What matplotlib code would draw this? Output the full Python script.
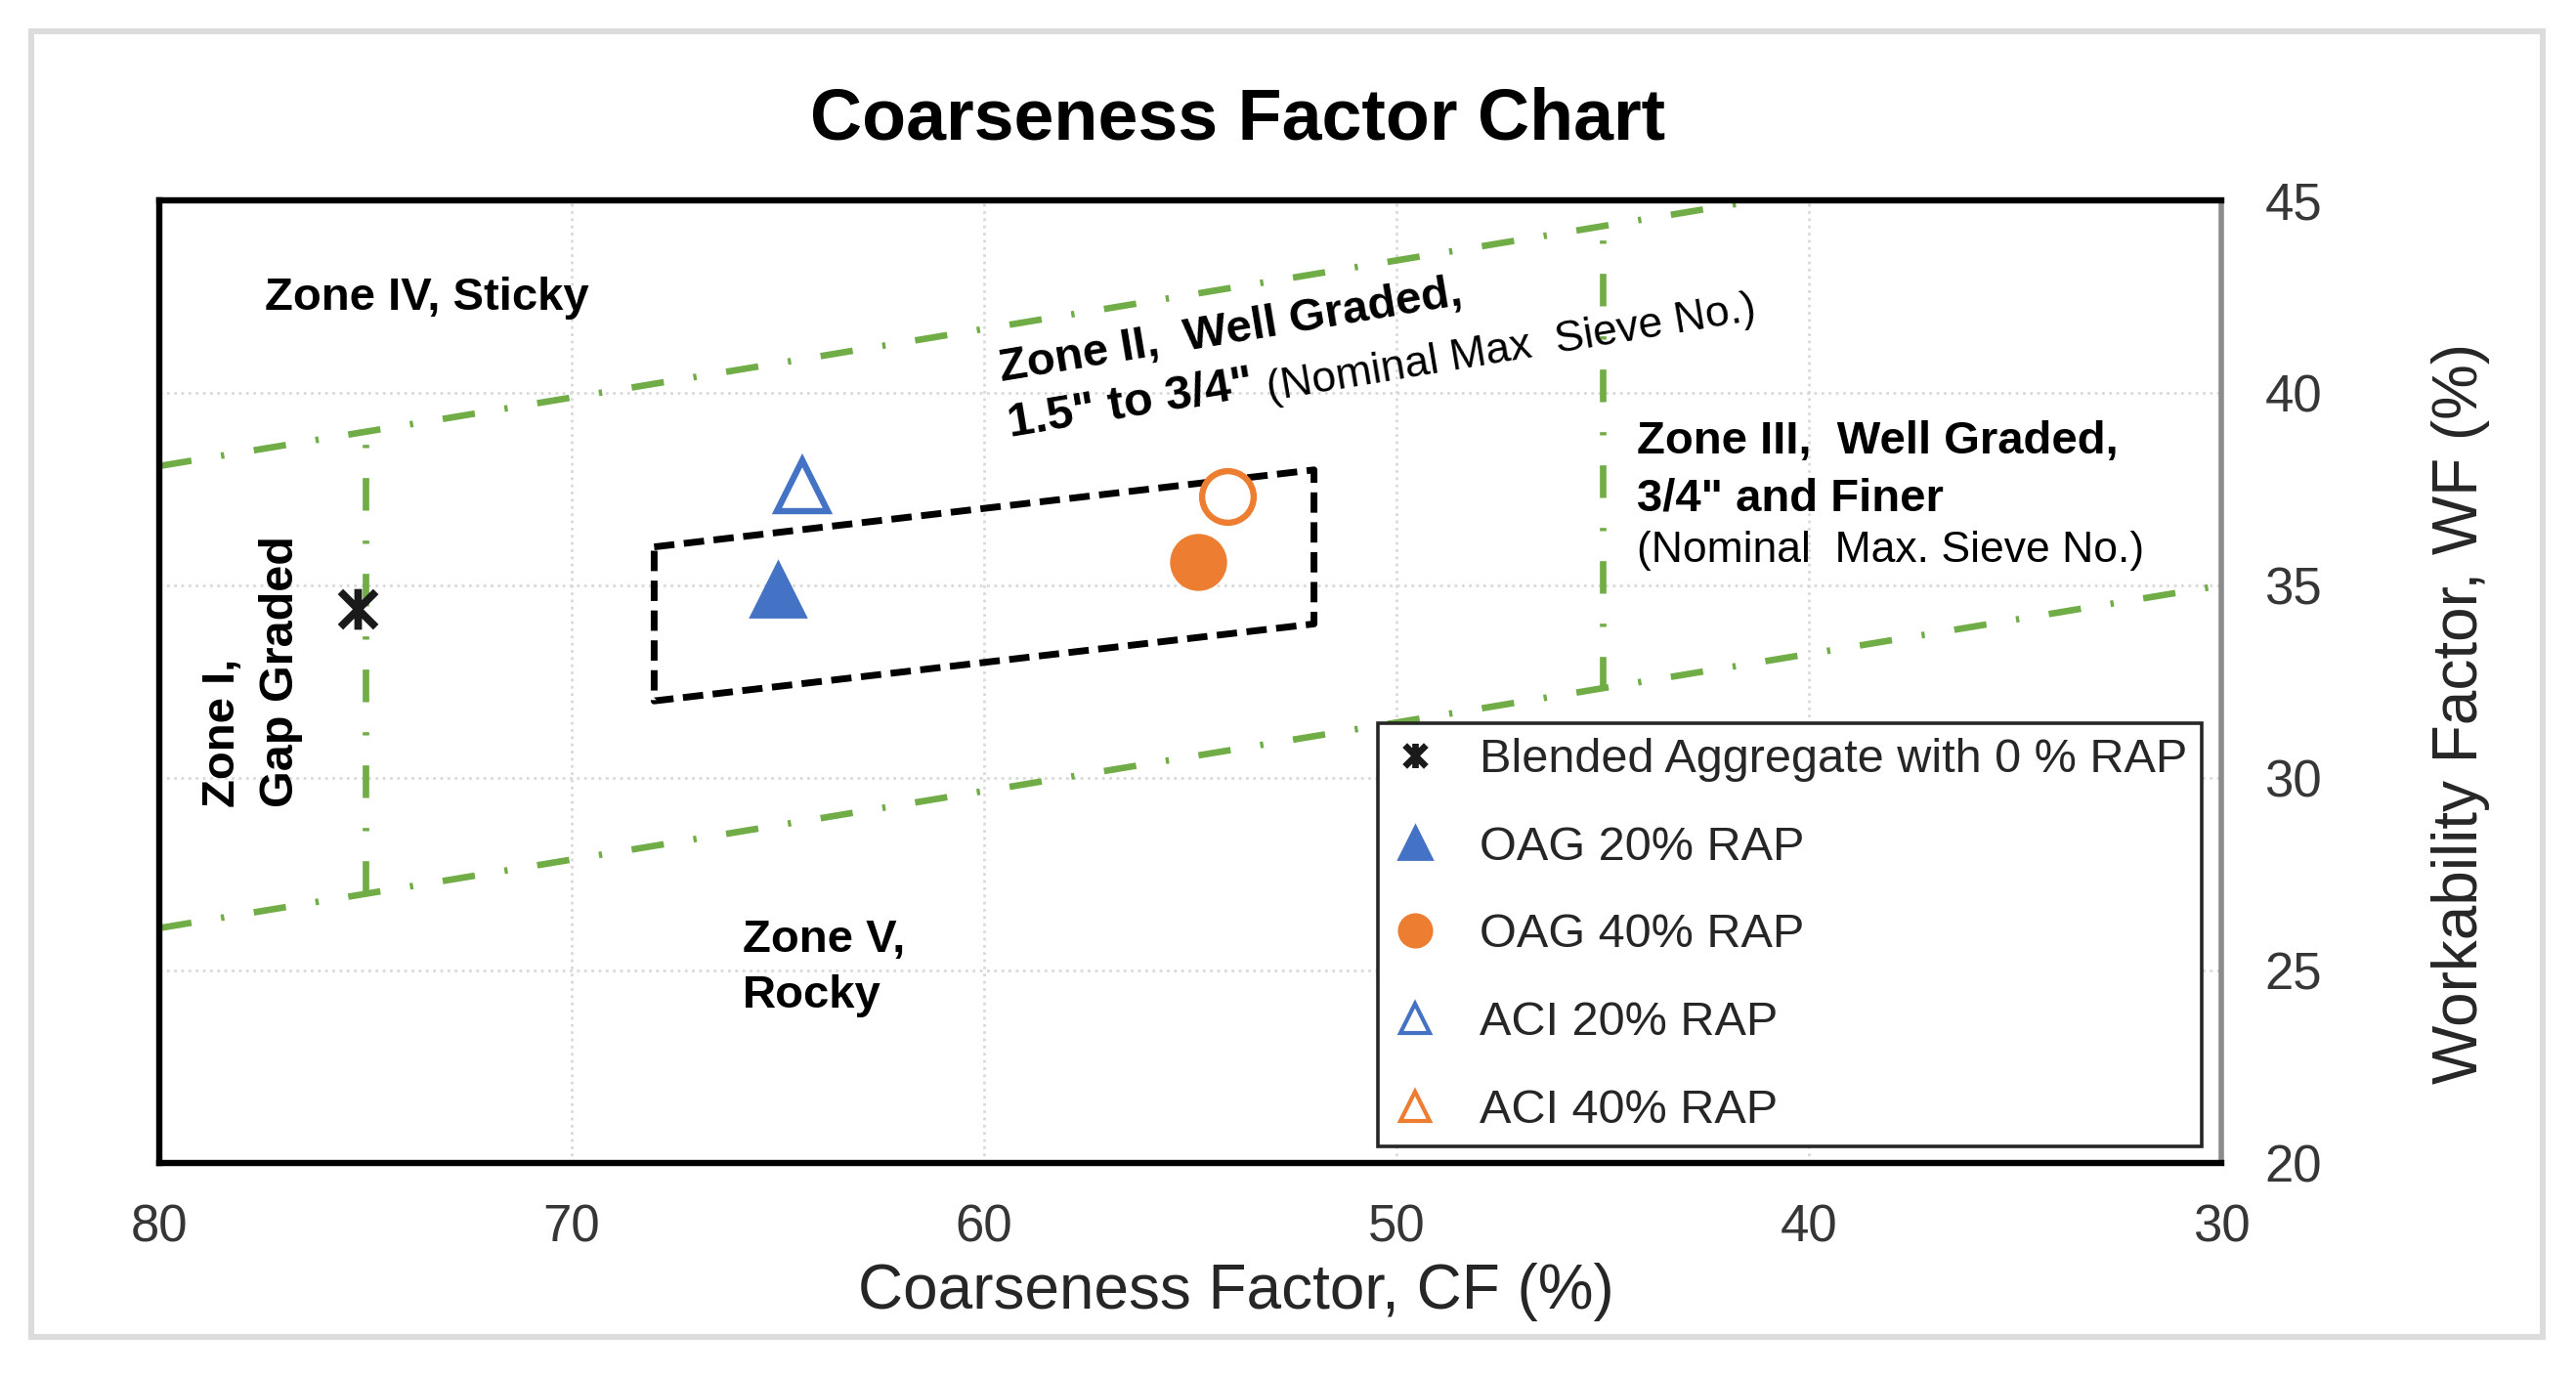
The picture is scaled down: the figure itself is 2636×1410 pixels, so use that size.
import numpy as np
import matplotlib
matplotlib.use("Agg")
import matplotlib.pyplot as plt
from matplotlib.lines import Line2D
from matplotlib.path import Path
from matplotlib.patches import Rectangle

plt.rcParams['font.family'] = ['Liberation Sans', 'DejaVu Sans']

# boundary lines (CF, WF)
upper_cf = [80, 30]
upper_wf = [38.1, 47.0]
lower_cf = [80, 30]
lower_wf = [26.1, 35.0]
zone1_cf = [75, 75]
zone1_wf = [27.0, 39.0]
zone3_cf = [45, 45]
zone3_wf = [32.3, 44.2]

# dashed box (recommended region)
box_cf = [68, 52, 52, 68, 68]
box_wf = [36, 38, 34, 32, 36]

# mixes
blend_cf, blend_wf = [75.2], [34.4]
oag20_cf, oag20_wf = [65.0], [34.9]
oag40_cf, oag40_wf = [54.8], [35.6]
aci20_cf, aci20_wf = [64.4], [37.6]
aci40_cf, aci40_wf = [54.1], [37.3]

legend_labels = ['Blended Aggregate with 0 % RAP', 'OAG 20% RAP', 'OAG 40% RAP',
                 'ACI 20% RAP', 'ACI 40% RAP']

x_ticks = [80, 70, 60, 50, 40, 30]
y_ticks = [20, 25, 30, 35, 40, 45]

blue = '#4472C4'
orange = '#ED7D31'
green = '#70AD47'

# asterisk marker: x plus vertical stroke
star = Path([(-1, -1), (1, 1), (-1, 1), (1, -1), (0, -1.15), (0, 1.15)],
            [Path.MOVETO, Path.LINETO] * 3)

fig = plt.figure(figsize=(13.18, 7.05), dpi=200)
ax = fig.add_axes([163 / 2636, 1 - 1190 / 1410, 2110 / 2636, 985 / 1410])

ax.set_xlim(80, 30)
ax.set_ylim(20, 45)
ax.set_xticks(x_ticks)
ax.set_yticks(y_ticks)
ax.yaxis.tick_right()
ax.yaxis.set_label_position('right')
ax.tick_params(axis='both', length=0, labelsize=19, colors='#363636')
ax.tick_params(axis='x', pad=15)
ax.tick_params(axis='y', pad=16)
ax.grid(True, color='#d9d9d9', linestyle=':', linewidth=1.0, zorder=0)
ax.set_axisbelow(True)

for side in ['left', 'top', 'bottom']:
    ax.spines[side].set_linewidth(2.3)
    ax.spines[side].set_color('black')
ax.spines['right'].set_linewidth(2.0)
ax.spines['right'].set_color('#8c8c8c')

green_ls = (0, (5, 4.6, 0.5, 4.6))
for cf, wf in [(upper_cf, upper_wf), (lower_cf, lower_wf),
               (zone1_cf, zone1_wf), (zone3_cf, zone3_wf)]:
    ax.plot(cf, wf, color=green, linewidth=2.4, linestyle=green_ls,
            dash_capstyle='butt', zorder=2)

ax.plot(box_cf, box_wf, color='black', linewidth=2.5, linestyle=(0, (3.0, 1.4)),
        dash_capstyle='butt', zorder=2)

# data points
ax.plot(blend_cf, blend_wf, linestyle='none', marker=star, markersize=15,
        markeredgewidth=2.8, markeredgecolor='#1a1a1a', markerfacecolor='none', zorder=4)
ax.plot(oag20_cf, oag20_wf, linestyle='none', marker='^', markersize=20,
        color=blue, markeredgewidth=1, zorder=4)
ax.plot(aci20_cf, aci20_wf, linestyle='none', marker='^', markersize=19,
        markerfacecolor='white', markeredgecolor=blue, markeredgewidth=2.3, zorder=4)
ax.plot(oag40_cf, oag40_wf, linestyle='none', marker='o', markersize=20,
        color=orange, markeredgewidth=1, zorder=4)
ax.plot(aci40_cf, aci40_wf, linestyle='none', marker='o', markersize=19,
        markerfacecolor='white', markeredgecolor=orange, markeredgewidth=2.3, zorder=4)

# zone labels
zf = 17
ax.text(77.45, 42.16, 'Zone IV, Sticky', fontsize=zf, fontweight='bold', va='baseline')
ax.text(44.17, 38.43, 'Zone III,  Well Graded,', fontsize=zf, fontweight='bold', va='baseline')
ax.text(44.17, 36.95, '3/4" and Finer', fontsize=zf, fontweight='bold', va='baseline')
ax.text(44.17, 35.62, '(Nominal  Max. Sieve No.)', fontsize=16, va='baseline')
ax.text(65.85, 25.48, 'Zone V,', fontsize=zf, fontweight='bold', va='baseline')
ax.text(65.85, 24.04, 'Rocky', fontsize=zf, fontweight='bold', va='baseline')
ax.text(78.45, 29.24, 'Zone I,', fontsize=zf, fontweight='bold', rotation=90,
        ha='center', va='bottom')
ax.text(77.05, 29.24, 'Gap Graded', fontsize=zf + 0.5, fontweight='bold', rotation=90,
        ha='center', va='bottom')

# rotated zone II label, parallel to the upper boundary
p0 = ax.transData.transform((upper_cf[0], upper_wf[0]))
p1 = ax.transData.transform((upper_cf[1], upper_wf[1]))
angle = np.degrees(np.arctan2(p1[1] - p0[1], p1[0] - p0[0]))
ax.text(59.57, 40.3, 'Zone II,  Well Graded,', fontsize=zf, fontweight='bold',
        rotation=angle, rotation_mode='anchor', ha='left', va='baseline')
ax.text(59.36, 38.86, '1.5" to 3/4"', fontsize=zf + 0.5, fontweight='bold',
        rotation=angle, rotation_mode='anchor', ha='left', va='baseline')
ax.text(53.1, 39.8, '(Nominal Max  Sieve No.)', fontsize=16,
        rotation=angle, rotation_mode='anchor', ha='left', va='baseline')

ax.set_xlabel('Coarseness Factor, CF (%)', fontsize=23, color='#262626')
ax.set_ylabel('Workability Factor, WF (%)', fontsize=23, color='#262626')
ax.xaxis.set_label_coords(0.522, -0.104)
ax.yaxis.set_label_coords(1.102, 0.467)

fig.text(0.4806, 0.8986, 'Coarseness Factor Chart', ha='center', va='baseline',
         fontsize=26.5, fontweight='bold')

# legend (the plot uses a circle for ACI 40%, the legend shows a triangle)
handles = [
    Line2D([], [], linestyle='none', marker=star, markersize=9, markeredgewidth=2.4,
           markeredgecolor='#1a1a1a', markerfacecolor='none'),
    Line2D([], [], linestyle='none', marker='^', markersize=12, color=blue),
    Line2D([], [], linestyle='none', marker='o', markersize=12, color=orange),
    Line2D([], [], linestyle='none', marker='^', markersize=11, markerfacecolor='white',
           markeredgecolor=blue, markeredgewidth=1.5),
    Line2D([], [], linestyle='none', marker='^', markersize=11, markerfacecolor='white',
           markeredgecolor=orange, markeredgewidth=1.5),
]
leg = ax.legend(handles, legend_labels, loc='lower right', bbox_to_anchor=(0.9905, 0.017),
                borderaxespad=0, fontsize=17.5, frameon=True, fancybox=False,
                framealpha=1, edgecolor='#262626', labelspacing=0.92, borderpad=0.3,
                handlelength=1.0, handletextpad=0.85)
leg.get_frame().set_linewidth(1.3)
for t in leg.get_texts():
    t.set_color('#262626')
leg.set_zorder(5)

# light outer border of the picture
fig.patches.append(Rectangle((0.012, 0.030), 0.975, 0.947, transform=fig.transFigure,
                             fill=False, edgecolor='#dcdcdc', linewidth=2.2))

fig.savefig('out.png', dpi=200)
